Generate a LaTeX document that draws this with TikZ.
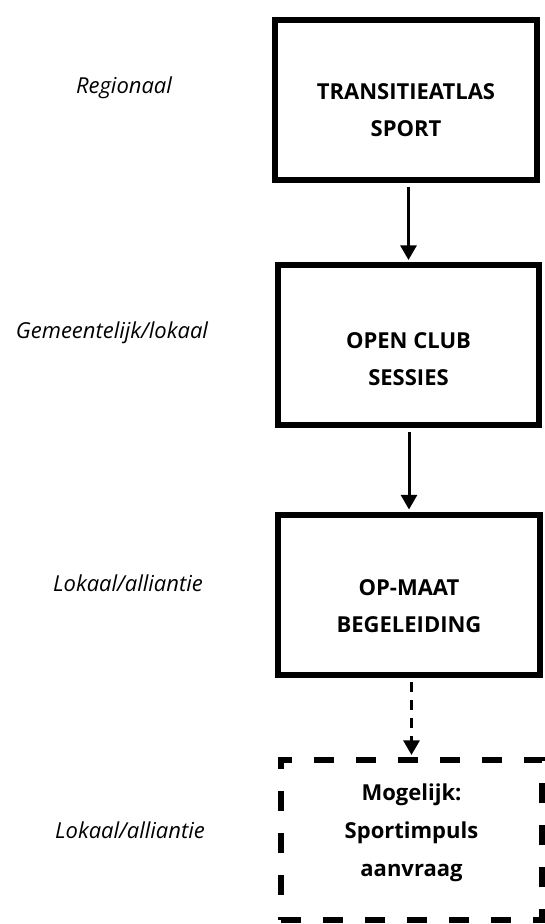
\documentclass[tikz,border=0pt]{standalone}
\usepackage{fontspec}
\setmainfont{Open Sans}
\usetikzlibrary{arrows.meta}

\tikzset{
    stap/.style={draw, line width=4.5pt, minimum width=196pt, minimum height=120pt, inner sep=0pt},
    stapopt/.style={stap, dash pattern=on 15pt off 16.5pt},
    staptekst/.style={align=center, font=\bfseries\fontsize{16.5pt}{27.5pt}\selectfont},
    niveau/.style={font=\itshape\fontsize{16.5pt}{19pt}\selectfont},
    pijl/.style={line width=2.25pt, -{Triangle[length=11pt,width=12pt]}, shorten <=3pt, shorten >=1.5pt}
}

\begin{document}
\begin{tikzpicture}[x=0.75pt, y=-0.75pt]
        \useasboundingbox (0,0) rectangle (545,924);
        % niveaus links
        \node[niveau] (regio) at (124,88) {Regionaal};
        \node[niveau] (gemeente) at (112,333) {Gemeentelijk/lokaal};
        \node[niveau] (lokaal) at (128,583) {Lokaal/alliantie};
        \node[niveau] (lokaaltwee) at (130,830) {Lokaal/alliantie};
        % stappen rechts
        \node[stap] (atlas) at (406,100) {};
        \node[stap] (club) at (408.5,345) {};
        \node[stap] (maat) at (409,594.5) {};
        \node[stapopt] (impuls) at (411.5,840) {};
        \node[staptekst] (atlastekst) at (406,110) {TRANSITIEATLAS\\SPORT};
        \node[staptekst] (clubtekst) at (408.5,359) {OPEN CLUB\\SESSIES};
        \node[staptekst] (maattekst) at (409,606) {OP-MAAT\\BEGELEIDING};
        \node[staptekst, font=\bfseries\fontsize{16.5pt}{28.5pt}\selectfont] (impulstekst) at (411.5,833) {Mogelijk:\\Sportimpuls\\aanvraag};
        % pijlen
        \draw[pijl] (atlas.south -| club.north) -- (club.north);
        \draw[pijl] (club.south -| maat.north) -- (maat.north);
        \draw[pijl, dash pattern=on 7.5pt off 6pt] (maat.south -| impuls.north) -- (impuls.north);
    \end{tikzpicture}
\end{document}
